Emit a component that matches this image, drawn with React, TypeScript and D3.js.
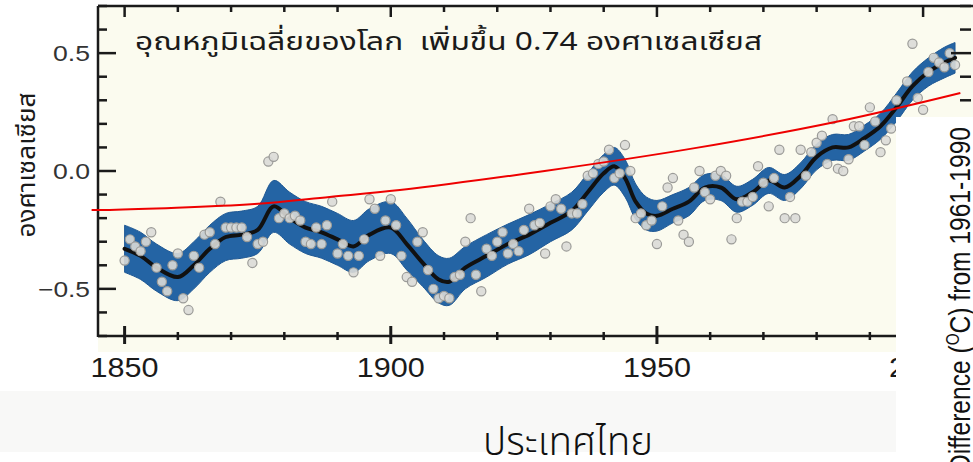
import React from 'react';
import * as d3 from 'd3';

// ---------- data ----------
const firstYear = 1850;
const annualAnomaly = [
  -0.38, -0.29, -0.32, -0.34, -0.30, -0.26, -0.41, -0.47, -0.51, -0.40,
  -0.35, -0.54, -0.59, -0.36, -0.41, -0.27, -0.26, -0.31, -0.13, -0.24,
  -0.24, -0.24, -0.24, -0.28, -0.39, -0.31, -0.30, 0.04, 0.06, -0.20,
  -0.18, -0.20, -0.19, -0.21, -0.30, -0.31, -0.24, -0.31, -0.23, -0.13,
  -0.35, -0.31, -0.36, -0.43, -0.36, -0.29, -0.12, -0.16, -0.36, -0.21,
  -0.12, -0.23, -0.36, -0.45, -0.47, -0.30, -0.26, -0.42, -0.50, -0.54,
  -0.53, -0.54, -0.45, -0.44, -0.30, -0.20, -0.44, -0.51, -0.33, -0.36,
  -0.30, -0.26, -0.35, -0.31, -0.34, -0.25, -0.16, -0.23, -0.22, -0.35,
  -0.15, -0.12, -0.16, -0.32, -0.18, -0.18, -0.14, -0.02, -0.01, 0.03,
  0.04, 0.09, -0.03, -0.01, 0.11, 0.00, -0.20, -0.18, -0.23, -0.21,
  -0.31, -0.15, -0.07, -0.03, -0.21, -0.27, -0.30, -0.07, 0.00, -0.09,
  -0.12, -0.02, 0.00, -0.02, -0.29, -0.20, -0.13, -0.13, -0.11, 0.02,
  -0.05, -0.15, -0.03, 0.09, -0.20, -0.11, -0.20, 0.09, -0.02, 0.08,
  0.12, 0.15, 0.03, 0.22, 0.01, 0.00, 0.05, 0.19, 0.19, 0.11,
  0.27, 0.21, 0.08, 0.13, 0.18, 0.30, 0.16, 0.38, 0.54, 0.31,
  0.26, 0.42, 0.48, 0.46, 0.44, 0.50, 0.45,
];

const smoothYears = [
  1850, 1853, 1856, 1860, 1863, 1866, 1869, 1872, 1875, 1878,
  1881, 1884, 1887, 1890, 1893, 1896, 1900, 1903, 1906, 1909,
  1911, 1914, 1918, 1922, 1926, 1930, 1934, 1937, 1940, 1942,
  1944, 1946, 1948, 1950, 1953, 1956, 1959, 1962, 1965, 1968,
  1971, 1974, 1977, 1980, 1983, 1986, 1989, 1992, 1995, 1998,
  2001, 2004, 2006,
];
const smoothValues = [
  -0.33, -0.36, -0.41, -0.45, -0.40, -0.33, -0.28, -0.27, -0.25, -0.15,
  -0.20, -0.24, -0.26, -0.29, -0.32, -0.27, -0.24, -0.31, -0.39, -0.46,
  -0.47, -0.41, -0.36, -0.31, -0.27, -0.22, -0.17, -0.09, -0.01, 0.02,
  -0.03, -0.13, -0.18, -0.19, -0.16, -0.13, -0.07, -0.07, -0.12, -0.09,
  -0.04, -0.07, -0.02, 0.06, 0.10, 0.10, 0.14, 0.19, 0.27, 0.36,
  0.42, 0.46, 0.48,
];
const bandHalfWidth = [
  0.10, 0.10, 0.10, 0.10, 0.10, 0.10, 0.10, 0.10, 0.10, 0.11,
  0.11, 0.11, 0.11, 0.11, 0.11, 0.11, 0.11, 0.11, 0.10, 0.10,
  0.10, 0.09, 0.09, 0.085, 0.085, 0.08, 0.08, 0.08, 0.08, 0.08,
  0.08, 0.075, 0.07, 0.065, 0.06, 0.06, 0.055, 0.055, 0.055, 0.055,
  0.055, 0.055, 0.055, 0.055, 0.055, 0.055, 0.055, 0.055, 0.06, 0.06,
  0.06, 0.065, 0.065,
];

const trendYears = [1843.8, 1847.2, 1874.4, 1888.5, 1901.7, 1928.9, 1957.1, 1984.4, 2007.0];
const trendValues = [-0.165, -0.165, -0.14, -0.11, -0.081, 0.0, 0.097, 0.212, 0.331];

const yMajorTicks = [0.5, 0.0, -0.5];
const yTickLabels = ['0.5', '0.0', '\u22120.5'];
const xMajorTicks = [1850, 1900, 1950, 2000];
const xTickLabels = ['1850', '1900', '1950', '2000'];

const titleText = 'อุณหภูมิเฉลี่ยของโลก  เพิ่มขึ้น 0.74 องศาเซลเซียส';
const yAxisTitle = 'องศาเซลเซียส';
const bottomCaption = 'ประเทศไทย';

const thaiFont = "'Noto Sans Thai', 'Noto Sans Thai Looped', Loma, Garuda, Norasi, 'Tlwg Typist', Tahoma, 'DejaVu Sans', sans-serif";
const latinFont = "'Liberation Sans', Arial, Helvetica, sans-serif";

export default function App() {
  const W = 973;
  const H = 462;
  const x = d3.scaleLinear().domain([1845, 2009]).range([98, 971]);
  const y = d3.scaleLinear().domain([-0.7, 0.7]).range([336, 6]);

  const points = annualAnomaly.map((v, i) => ({ year: firstYear + i, v }));
  const smooth = smoothYears.map((yr, i) => ({ year: yr, v: smoothValues[i], h: bandHalfWidth[i] }));
  const trend = trendYears.map((yr, i) => ({ year: yr, v: trendValues[i] }));

  const band = d3
    .area<any>()
    .x((d) => x(d.year))
    .y0((d) => y(d.v - d.h))
    .y1((d) => y(d.v + d.h))
    .curve(d3.curveCatmullRom.alpha(0.5))(smooth) as string;
  const smoothLine = d3
    .line<any>()
    .x((d) => x(d.year))
    .y((d) => y(d.v))
    .curve(d3.curveCatmullRom.alpha(0.5))(smooth) as string;
  const trendLine = d3
    .line<any>()
    .x((d) => x(d.year))
    .y((d) => y(d.v))
    .curve(d3.curveCatmullRom.alpha(0.5))(trend) as string;

  const yTicks = y.ticks(14);
  const xTicks = x.ticks(16);
  const isMajorY = (v: number) => yMajorTicks.some((m) => Math.abs(m - v) < 1e-6);
  const isMajorX = (v: number) => xMajorTicks.includes(v);

  const axisColor = '#1a1a1a';
  const left = x.range()[0];
  const right = x.range()[1];
  const top = y.range()[1];
  const bottom = y.range()[0];

  return (
    <svg
      width={W}
      height={H}
      viewBox={`0 0 ${W} ${H}`}
      style={{ position: 'absolute', left: 0, top: 0, background: '#ffffff' }}
    >
      {/* slide background */}
      <rect x={0} y={0} width={W} height={H} fill="#ffffff" />
      <rect x={0} y={391} width={W} height={61} fill="#f8f8f7" />
      {/* plot background */}
      <rect x={left} y={top} width={W - left} height={352 - top} fill="#fbfbef" />

      {/* uncertainty band and smoothed curve */}
      <path d={band} fill="#2464a4" stroke="#1f5894" strokeWidth={1} />
      <path d={smoothLine} fill="none" stroke="#111111" strokeWidth={4} strokeLinecap="round" />

      {/* annual values */}
      {points.map((p) => (
        <circle
          key={p.year}
          cx={x(p.year)}
          cy={y(p.v)}
          r={4.6}
          fill="#dadad7"
          fillOpacity={0.9}
          stroke="#9b9b98"
          strokeWidth={1.2}
        />
      ))}

      {/* axes frame */}
      <line x1={left} y1={top} x2={W} y2={top} stroke={axisColor} strokeWidth={2.5} />
      <line x1={left} y1={top} x2={left} y2={bottom + 1} stroke={axisColor} strokeWidth={2.5} />
      <line x1={left} y1={bottom} x2={W} y2={bottom} stroke={axisColor} strokeWidth={2.5} />

      {yTicks.map((t) => {
        const major = isMajorY(t);
        return (
          <g key={`y${t}`}>
            <line x1={left} x2={left + (major ? 18 : 9)} y1={y(t)} y2={y(t)} stroke={axisColor} strokeWidth={2.5} />
            <line x1={right} x2={right - (major ? 20 : 11)} y1={y(t)} y2={y(t)} stroke={axisColor} strokeWidth={2.5} />
          </g>
        );
      })}
      {xTicks.map((t) => {
        const major = isMajorX(t);
        return (
          <g key={`x${t}`}>
            <line x1={x(t)} x2={x(t)} y1={top} y2={top + (major ? 11 : 6)} stroke={axisColor} strokeWidth={2.5} />
            <line
              x1={x(t)}
              x2={x(t)}
              y1={bottom - (major ? 10 : 4)}
              y2={bottom + (major ? 8 : 4)}
              stroke={axisColor}
              strokeWidth={major ? 3 : 2.5}
            />
          </g>
        );
      })}

      {/* tick labels */}
      {yMajorTicks.map((t, i) => (
        <text
          key={`yl${t}`}
          x={90}
          y={y(t) + 8}
          textAnchor="end"
          fontFamily={latinFont}
          fontSize={22}
          fill="#333333"
          textLength={i === 2 ? 52 : 37}
          lengthAdjust="spacingAndGlyphs"
        >
          {yTickLabels[i]}
        </text>
      ))}
      {xMajorTicks.map((t, i) => (
        <text
          key={`xl${t}`}
          x={x(t) - 34}
          y={377}
          fontFamily={latinFont}
          fontSize={28}
          fill="#1a1a1a"
          textLength={68}
          lengthAdjust="spacingAndGlyphs"
        >
          {xTickLabels[i]}
        </text>
      ))}

      {/* title inside plot */}
      <text
        x={135}
        y={50}
        fontFamily={thaiFont}
        fontSize={25}
        fill="#1a1a1a"
        textLength={627}
        lengthAdjust="spacingAndGlyphs"
        style={{ whiteSpace: 'pre' }}
      >
        {titleText}
      </text>

      {/* y axis title */}
      <text
        transform="translate(35,165) rotate(-90)"
        textAnchor="middle"
        fontFamily={thaiFont}
        fontSize={24}
        fill="#1a1a1a"
        textLength={145}
        lengthAdjust="spacingAndGlyphs"
      >
        {yAxisTitle}
      </text>

      {/* red trend overlay */}
      <path d={trendLine} fill="none" stroke="#ee0000" strokeWidth={2} />

      {/* white box with English axis title */}
      <rect x={896} y={117} width={W - 896} height={H - 117} fill="#ffffff" />
      <text
        transform="translate(970,127) rotate(-90)"
        textAnchor="end"
        fontFamily={latinFont}
        fontSize={29}
        fill="#111111"
        textLength={345}
        lengthAdjust="spacingAndGlyphs"
      >
        <tspan>Difference (</tspan>
        <tspan fontSize={18} dy={-11}>O</tspan>
        <tspan dy={11}>C) from 1961-1990</tspan>
      </text>

      {/* bottom caption */}
      <text
        x={483}
        y={455}
        fontFamily={thaiFont}
        fontSize={40}
        fontWeight={300}
        fill="#111111"
        textLength={170}
        lengthAdjust="spacingAndGlyphs"
      >
        {bottomCaption}
      </text>
    </svg>
  );
}
